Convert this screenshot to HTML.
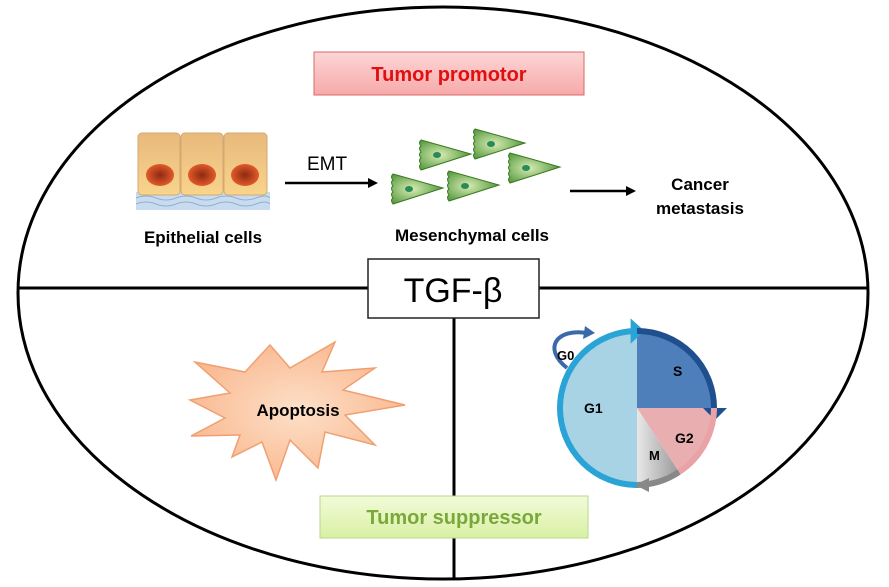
<!DOCTYPE html>
<html><head><meta charset="utf-8"><style>
html,body{margin:0;padding:0;background:#fff;width:889px;height:587px;overflow:hidden}
text{font-family:"Liberation Sans",Arial,sans-serif;font-weight:bold}
</style></head><body>
<svg width="889" height="587" viewBox="0 0 889 587" xmlns="http://www.w3.org/2000/svg">
<defs>
<linearGradient id="pink" x1="0" y1="0" x2="0" y2="1"><stop offset="0" stop-color="#fdd6d6"/><stop offset="1" stop-color="#f7a9a9"/></linearGradient>
<linearGradient id="grn" x1="0" y1="0" x2="0" y2="1"><stop offset="0" stop-color="#f2fbd9"/><stop offset="1" stop-color="#d9f0a5"/></linearGradient>
<radialGradient id="cell" cx="0.4" cy="0.5" r="0.7"><stop offset="0" stop-color="#d7ecb3"/><stop offset="1" stop-color="#3f8a2a"/></radialGradient>
<radialGradient id="nuc"><stop offset="0" stop-color="#8c2a10"/><stop offset="1" stop-color="#e25a2a"/></radialGradient>
<linearGradient id="epi" x1="0" y1="0" x2="0" y2="1"><stop offset="0" stop-color="#e8b97c"/><stop offset="1" stop-color="#f8d48c"/></linearGradient>
<radialGradient id="star" cx="0.5" cy="0.5" r="0.6"><stop offset="0" stop-color="#fde0c8"/><stop offset="1" stop-color="#f9b48a"/></radialGradient>
<linearGradient id="mg" x1="0" y1="0" x2="1" y2="0"><stop offset="0" stop-color="#e8e8e8"/><stop offset="1" stop-color="#999"/></linearGradient>
<g id="mc"><path d="M0,0 L50,14 L0,30 Q-3,26 0,24 Q-3,20 0,18 Q-3,14 0,12 Q-3,8 0,6 Q-3,3 0,0Z" fill="url(#cell)" stroke="#3a7a22" stroke-width="1"/><ellipse cx="16" cy="15" rx="4" ry="3" fill="#2a8a5a"/></g>
</defs>
<ellipse cx="443" cy="293" rx="425" ry="286" fill="none" stroke="#000" stroke-width="3"/>
<line x1="18" y1="288" x2="868" y2="288" stroke="#000" stroke-width="3"/>
<line x1="454" y1="318" x2="454" y2="580" stroke="#000" stroke-width="3"/>
<rect x="368" y="259" width="171" height="59" fill="#fff" stroke="#222" stroke-width="1.5"/>
<text x="453" y="302" font-size="34" text-anchor="middle" style="font-weight:normal">TGF-β</text>
<rect x="314" y="52" width="270" height="43" fill="url(#pink)" stroke="#d86a6a" stroke-width="1"/>
<text x="449" y="81" font-size="20" fill="#e01010" text-anchor="middle">Tumor promotor</text>
<rect x="320" y="496" width="268" height="42" fill="url(#grn)" stroke="#b6d98a" stroke-width="1"/>
<text x="454" y="524" font-size="20" fill="#7aa83a" text-anchor="middle">Tumor suppressor</text>
<rect x="136" y="192" width="134" height="18" fill="#c9dcef"/>
<path d="M136,198 q10,-4 20,0 t20,0 t20,0 t20,0 t20,0 t20,0 t14,0 M136,204 q10,-4 20,0 t20,0 t20,0 t20,0 t20,0 t20,0 t14,0" stroke="#8fb0d0" fill="none"/>
<rect x="138" y="133" width="42" height="62" rx="4" fill="url(#epi)" stroke="#d4a870"/>
<rect x="181" y="133" width="42" height="62" rx="4" fill="url(#epi)" stroke="#d4a870"/>
<rect x="224" y="133" width="43" height="62" rx="4" fill="url(#epi)" stroke="#d4a870"/>
<ellipse cx="160" cy="175" rx="14" ry="11" fill="url(#nuc)"/>
<ellipse cx="202" cy="175" rx="14" ry="11" fill="url(#nuc)"/>
<ellipse cx="245" cy="175" rx="14" ry="11" fill="url(#nuc)"/>
<text x="203" y="243" font-size="17" text-anchor="middle">Epithelial cells</text>
<text x="327" y="170" font-size="19" text-anchor="middle" style="font-weight:normal">EMT</text>
<line x1="285" y1="183" x2="370" y2="183" stroke="#000" stroke-width="2.5"/><path d="M378,183 L368,178 L368,188Z"/>
<use href="#mc" x="421" y="140"/><use href="#mc" x="475" y="129"/><use href="#mc" x="510" y="153"/><use href="#mc" x="393" y="174"/><use href="#mc" x="449" y="171"/>
<text x="472" y="241" font-size="17" text-anchor="middle">Mesenchymal cells</text>
<line x1="570" y1="191" x2="628" y2="191" stroke="#000" stroke-width="2.5"/><path d="M636,191 L626,186 L626,196Z"/>
<text x="700" y="190" font-size="17" text-anchor="middle">Cancer</text>
<text x="700" y="214" font-size="17" text-anchor="middle">metastasis</text>
<path d="M195,362 L245,372 L270,345 L290,368 L335,342 L322,372 L375,368 L343,390 L405,405 L345,415 L375,445 L325,432 L318,468 L290,440 L276,480 L262,442 L232,457 L240,435 L191,436 L225,418 L190,400 L230,393 Z" fill="url(#star)" stroke="#f0a070" stroke-width="1.5"/>
<text x="298" y="416" font-size="17" text-anchor="middle">Apoptosis</text>
<g transform="translate(637,408)">
<path d="M0,-77 A77,77 0 1 0 0,77 Z" fill="#a7d3e5"/>
<path d="M0,0 L0,-77 A77,77 0 0 1 77,0 Z" fill="#4f7fba"/>
<path d="M0,0 L77,0 A77,77 0 0 1 42,64 Z" fill="#e9aeb0"/>
<path d="M0,0 L42,64 A77,77 0 0 1 0,77 Z" fill="url(#mg)"/>
<path d="M0,77 A77,77 0 0 1 0,-77" fill="none" stroke="#2aa4d6" stroke-width="6"/>
<path d="M-10,-86 L0,-77 L-10,-68 Z" fill="#2aa4d6" transform="translate(2,0) scale(1.4) translate(4,22)"/>
<path d="M0,-77 A77,77 0 0 1 77,0" fill="none" stroke="#1f4f8f" stroke-width="6"/>
<path d="M66,0 L90,0 L78,12Z" fill="#1f4f8f"/>
<path d="M77,0 A77,77 0 0 1 42,64" fill="none" stroke="#e9a2a6" stroke-width="6"/>
<path d="M42,64 A77,77 0 0 1 0,77" fill="none" stroke="#888" stroke-width="6"/>
<path d="M12,70 L-2,77 L12,84Z" fill="#888"/>
<path d="M-70,-40 C-95,-60 -80,-80 -50,-75" fill="none" stroke="#3a6aaa" stroke-width="4"/>
<path d="M-52,-82 L-42,-75 L-54,-69Z" fill="#3a6aaa"/>
<text x="-80" y="-48" font-size="13">G0</text>
<text x="-53" y="5" font-size="14">G1</text>
<text x="36" y="-32" font-size="14">S</text>
<text x="38" y="35" font-size="14">G2</text>
<text x="12" y="52" font-size="13">M</text>
</g>
</svg>
</body></html>
